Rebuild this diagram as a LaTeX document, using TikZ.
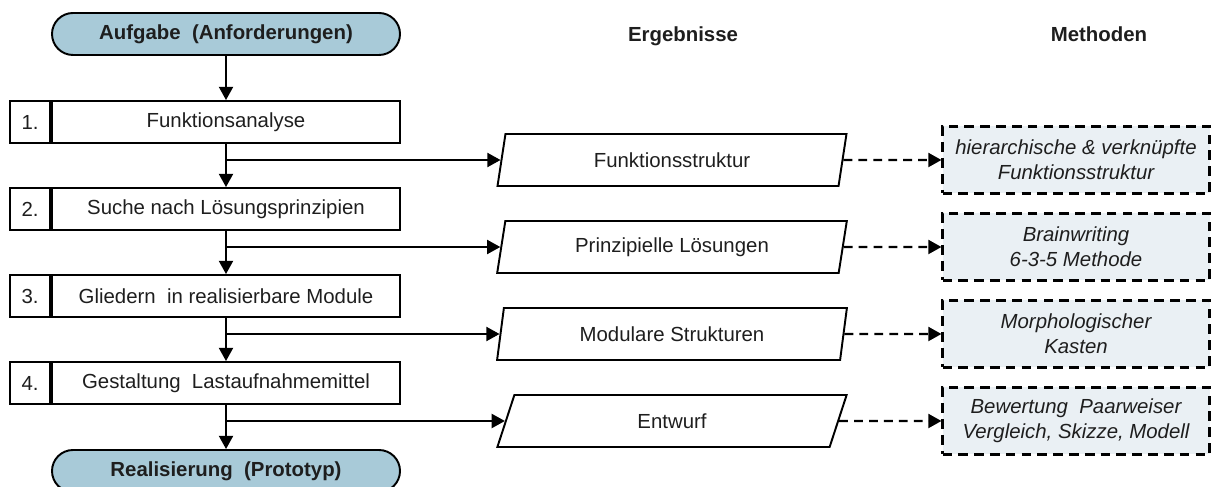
\documentclass[tikz,border=0pt]{standalone}
\usepackage{fontspec}
\setmainfont{Liberation Sans}
\usetikzlibrary{arrows.meta, shapes.geometric, shapes.misc}
\definecolor{termblue}{RGB}{168,202,216}
\definecolor{methgray}{RGB}{234,240,244}
\definecolor{txtgray}{RGB}{30,30,30}

\tikzset{
  every node/.style={text=txtgray, font=\fontsize{11.6}{13.5}\selectfont},
  term/.style={rounded rectangle, draw, line width=1.1pt, fill=termblue,
    minimum width=6.96cm, minimum height=0.84cm, inner sep=0pt,
    font=\fontsize{11.6}{13.5}\selectfont\bfseries},
  stepbox/.style={rectangle, draw, line width=1.1pt, minimum width=6.96cm,
    minimum height=0.84cm, inner sep=0pt},
  numbox/.style={rectangle, draw, line width=1.1pt, minimum width=0.8cm,
    minimum height=0.84cm, inner sep=0pt, anchor=east},
  result/.style={trapezium, trapezium left angle=76, trapezium right angle=104,
    trapezium stretches=true, draw, line width=1.1pt, minimum width=7cm,
    minimum height=1.04cm, inner sep=0pt},
  method/.style={rectangle, draw, line width=1.2pt, dash pattern=on 5.5pt off 3.5pt,
    fill=methgray, minimum width=5.34cm, minimum height=1.34cm, align=center,
    inner sep=0pt, font=\fontsize{11.6}{14}\selectfont\itshape},
  header/.style={anchor=base, font=\fontsize{11.6}{13.5}\selectfont\bfseries},
  flow/.style={-{Triangle[length=7.5pt,width=8pt]}, line width=1.1pt},
  link/.style={flow, line width=1.2pt, dash pattern=on 5pt off 3.5pt},
}

\begin{document}
\begin{tikzpicture}
  \useasboundingbox (0,0) rectangle (24.28,-9.74);

  % column heads
  \node[header] (hres) at (13.66,-0.83) {Ergebnisse};
  \node[header] (hmeth) at (21.98,-0.83) {Methoden};

  % main sequence
  \node[term] (start) at (4.52,-0.68) {Aufgabe~ (Anforderungen)};
  \node[stepbox] (s1) at (4.52,-2.44) {Funktionsanalyse};
  \node[stepbox] (s2) at (4.52,-4.18) {Suche nach Lösungsprinzipien};
  \node[stepbox] (s3) at (4.52,-5.92) {Gliedern~ in realisierbare Module};
  \node[stepbox] (s4) at (4.52,-7.66) {Gestaltung~ Lastaufnahmemittel};
  \node[term] (stop) at (4.52,-9.42) {Realisierung~ (Prototyp)};

  \node[numbox] (n1) at (s1.west) {1.};
  \node[numbox] (n2) at (s2.west) {2.};
  \node[numbox] (n3) at (s3.west) {3.};
  \node[numbox] (n4) at (s4.west) {4.};

  % results
  \node[result] (e1) at (13.44,-3.2) {Funktionsstruktur};
  \node[result] (e2) at (13.44,-4.94) {Prinzipielle Lösungen};
  \node[result] (e3) at (13.44,-6.68) {Modulare Strukturen};
  \node[result] (e4) at (13.44,-8.42) {Entwurf};

  % methods
  \node[method] (m1) at (21.52,-3.2) {hierarchische \& verknüpfte\\Funktionsstruktur};
  \node[method] (m2) at (21.52,-4.94) {Brainwriting\\6-3-5 Methode};
  \node[method] (m3) at (21.52,-6.68) {Morphologischer\\Kasten};
  \node[method] (m4) at (21.52,-8.42) {Bewertung~ Paarweiser\\Vergleich, Skizze, Modell};

  % branch points on the main line
  \coordinate (b1) at (s1.south |- e1.west);
  \coordinate (b2) at (s2.south |- e2.west);
  \coordinate (b3) at (s3.south |- e3.west);
  \coordinate (b4) at (s4.south |- e4.west);

  \draw[flow] (start) -- (s1);
  \draw[flow] (s1) -- (s2);
  \draw[flow] (s2) -- (s3);
  \draw[flow] (s3) -- (s4);
  \draw[flow] (s4) -- (stop);

  \draw[flow] (b1) -- (e1);
  \draw[flow] (b2) -- (e2);
  \draw[flow] (b3) -- (e3);
  \draw[flow] (b4) -- (e4);

  \draw[link] (e1) -- (m1);
  \draw[link] (e2) -- (m2);
  \draw[link] (e3) -- (m3);
  \draw[link] (e4) -- (m4);
\end{tikzpicture}
\end{document}
